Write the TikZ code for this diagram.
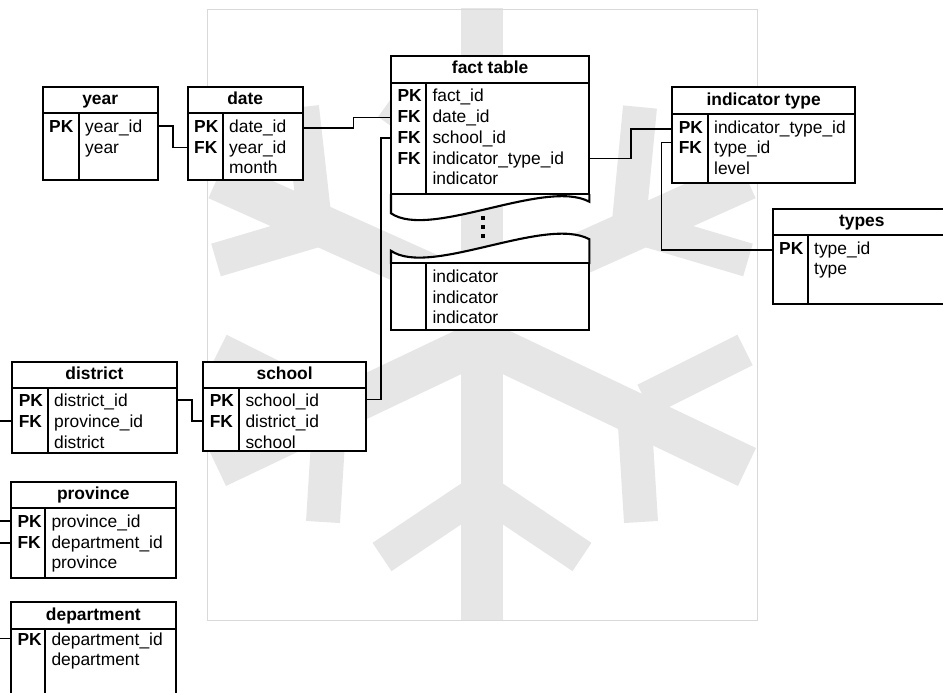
\documentclass[tikz,border=0pt]{standalone}
\usepackage{fontspec}
\setmainfont{Liberation Sans}
\usetikzlibrary{fit}
\definecolor{flakegray}{HTML}{E6E6E6}
\definecolor{framegray}{HTML}{D9D9D9}
\tikzset{
 tabbox/.style={draw, line width=2.1pt, fill=white, inner sep=0pt},
 tabline/.style={line width=2.1pt},
 divline/.style={line width=1.7pt},
 tabtitle/.style={anchor=base, inner sep=0pt, font=\fontsize{17.4pt}{20pt}\selectfont\bfseries},
 keytext/.style={anchor=base west, inner sep=0pt, font=\fontsize{17.4pt}{20pt}\selectfont\bfseries},
 fieldtext/.style={anchor=base west, inner sep=0pt, font=\fontsize{17.4pt}{20pt}\selectfont},
 conn/.style={line width=1.6pt},
 flake/.style={line width=42pt, draw=flakegray},
 twig/.style={line width=34pt, draw=flakegray},
 dotsq/.style={fill=black, minimum size=4pt, inner sep=0pt}
}
% #1 name #2 left #3 top #4 right #5 header line #6 bottom #7 divider #8 title
\newcommand{\ertab}[8]{%
  \node[tabbox, fit={(#2,#3) (#4,#6)}] (#1) {};
  \draw[tabline] (#2,#5) -- (#4,#5);
  \draw[divline] (#7,#5) -- (#7,#6);
  \node[tabtitle] (#1-title) at ({(#2+#4)/2},{(#3+#5)/2+4.5}) {#8};
}
\newcommand{\errowk}[6]{%
  \node[keytext] (#1-k) at (#2,#4) {#5};
  \node[fieldtext] (#1) at (#3,#4) {#6};
}
\newcommand{\errow}[4]{%
  \node[fieldtext] (#1) at (#2,#3) {#4};
}
\begin{document}
\begin{tikzpicture}[x=1pt,y=-1pt]
\clip (0,0) rectangle (943,693);
% background frame and snowflake watermark
\begin{scope}
\clip (207,9) rectangle (757,620);
\draw[flake] (482,0) -- (482,630);
\draw[flake] (482,298) -- (217,179);
\draw[flake] (482,298) -- (747,179);
\draw[flake] (482,341) -- (217,467);
\draw[flake] (482,341) -- (747,467);
\draw[twig] (628,232) -- (640,107);
\draw[twig] (640,228) -- (748,260);
\draw[twig] (316,232) -- (302,107);
\draw[twig] (324,228) -- (216,260);
\draw[twig] (634,410) -- (641,522);
\draw[twig] (645,400) -- (745,350);
\draw[twig] (330,410) -- (323,522);
\draw[twig] (319,400) -- (219,350);
\draw[twig] (482,490) -- (582,557);
\draw[twig] (482,490) -- (382,557);
\draw[twig] (482,170) -- (576,103);
\draw[twig] (482,170) -- (388,103);
\end{scope}
\draw[framegray, line width=0.8pt] (207,9) rectangle (757,620);

% fact table wavy pieces (drawn first)
\draw[tabline, fill=white] (391,194) -- (391,213.3) .. controls (430,240) and (545,178) .. (589.3,201.7) -- (589.3,194);
\draw[tabline, fill=white] (391,264) -- (391,250.8) .. controls (430,277.5) and (545,215.5) .. (589.3,239.2) -- (589.3,264);

% tables
\ertab{year}{42.7}{86.7}{157.7}{113.3}{180}{78.7}{year}
\errowk{year-r1}{49}{85}{132.3}{PK}{year\_id}
\errow{year-r2}{85}{153.1}{year}

\ertab{date}{187.7}{86.7}{302.7}{113.3}{180}{222.7}{date}
\errowk{date-r1}{194}{229}{132.3}{PK}{date\_id}
\errowk{date-r2}{194}{229}{153.1}{FK}{year\_id}
\errow{date-r3}{229}{173.9}{month}

\ertab{fact}{391}{56}{589.3}{82.7}{194.3}{426}{fact table}
\errowk{fact-r1}{397.3}{432.3}{101.7}{PK}{fact\_id}
\errowk{fact-r2}{397.3}{432.3}{122.5}{FK}{date\_id}
\errowk{fact-r3}{397.3}{432.3}{143.3}{FK}{school\_id}
\errowk{fact-r4}{397.3}{432.3}{164.1}{FK}{indicator\_type\_id}
\errow{fact-r5}{432.3}{184.9}{indicator}

\node[dotsq] (dot1) at (483.3,218.3) {};
\node[dotsq] (dot2) at (483.3,227.3) {};
\node[dotsq] (dot3) at (483.3,236.3) {};

\node[tabbox, fit={(391,263.3) (589.3,330)}] (fact2) {};
\draw[divline] (426,263.3) -- (426,330);
\errow{fact2-r1}{432.3}{282.3}{indicator}
\errow{fact2-r2}{432.3}{303.1}{indicator}
\errow{fact2-r3}{432.3}{323.9}{indicator}

\ertab{indtype}{672.3}{87.3}{855}{114}{183.3}{707.7}{indicator type}
\errowk{indtype-r1}{678.6}{714}{133}{PK}{indicator\_type\_id}
\errowk{indtype-r2}{678.6}{714}{153.8}{FK}{type\_id}
\errow{indtype-r3}{714}{174.6}{level}

\ertab{types}{772.7}{209.3}{951}{235}{304.3}{807.7}{types}
\errowk{types-r1}{779}{814}{254}{PK}{type\_id}
\errow{types-r2}{814}{274.8}{type}

\ertab{district}{12.3}{361.7}{176.7}{387.7}{453.3}{47.7}{district}
\errowk{district-r1}{18.6}{54}{406.7}{PK}{district\_id}
\errowk{district-r2}{18.6}{54}{427.5}{FK}{province\_id}
\errow{district-r3}{54}{448.3}{district}

\ertab{school}{203.3}{362.3}{366}{388.3}{451}{239}{school}
\errowk{school-r1}{209.6}{245.3}{406.8}{PK}{school\_id}
\errowk{school-r2}{209.6}{245.3}{427.6}{FK}{district\_id}
\errow{school-r3}{245.3}{448.4}{school}

\ertab{province}{11}{481.7}{175.7}{508.3}{578.3}{45}{province}
\errowk{province-r1}{17.3}{51.3}{527.3}{PK}{province\_id}
\errowk{province-r2}{17.3}{51.3}{548.1}{FK}{department\_id}
\errow{province-r3}{51.3}{568.9}{province}

\ertab{department}{11}{602.3}{175.7}{629}{700}{45}{department}
\errowk{department-r1}{17.3}{51.3}{645}{PK}{department\_id}
\errow{department-r2}{51.3}{665.8}{department}

% connectors
\draw[conn] (year.east |- 0,126) -- (172.7,126) |- (date.west |- 0,147.3);
\draw[conn] (date.east |- 0,128) -- (353.3,128) |- (fact.west |- 0,117.5);
\draw[conn] (school.east |- 0,399.5) -- (381,399.5) |- (fact.west |- 0,137.7);
\draw[conn] (fact.east |- 0,158.3) -- (631,158.3) |- (indtype.west |- 0,129);
\draw[conn] (indtype.west |- 0,142.3) -- (661.5,142.3) |- (types.west |- 0,249.8);
\draw[conn] (district.east |- 0,400) -- (191.7,400) |- (school.west |- 0,420.7);
\draw[conn] (district.west |- 0,420.7) -- (-4,420.7) |- (province.west |- 0,520.7);
\draw[conn] (province.west |- 0,542.7) -- (-4,542.7) |- (department.west |- 0,638.3);
\end{tikzpicture}
\end{document}
